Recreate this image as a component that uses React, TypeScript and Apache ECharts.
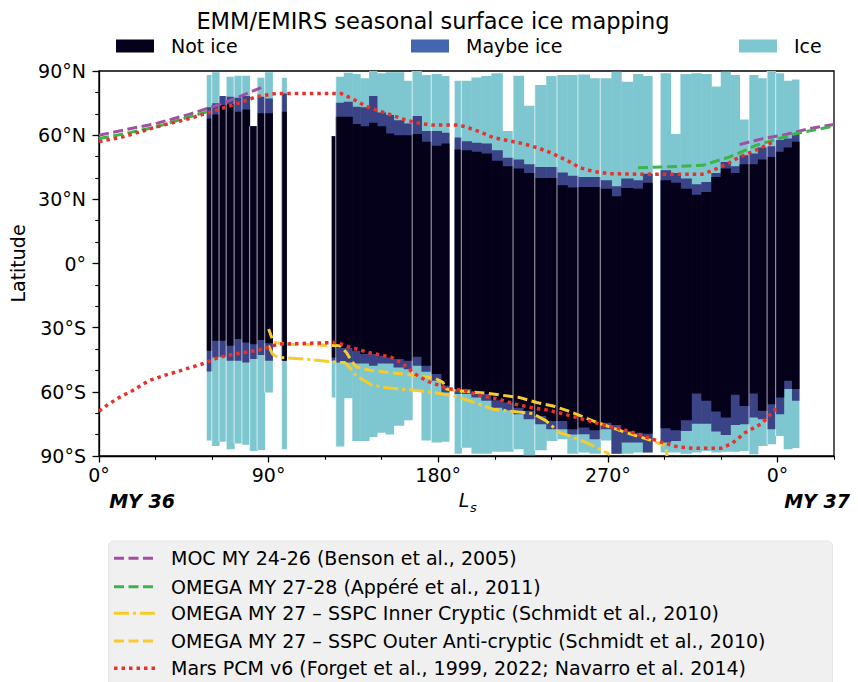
import React, { useEffect, useRef } from "react";
import * as echarts from "echarts";

// ---- EMIRS bins (Ls start/end, latitude boundaries) ----
const lsStart = [57.0, 59.8, 63.7, 67.5, 71.7, 75.8, 79.9, 83.9, 87.9, 96.9, 123.3, 125.6, 129.9, 134.4, 138.6, 143.3, 147.5, 152.1, 156.3, 161.7, 166.2, 171.1, 176.3, 181.7, 188.7, 192.3, 197.6, 202.8, 208.2, 214.0, 219.7, 225.3, 231.2, 237.3, 243.0, 248.5, 254.1, 260.3, 266.0, 271.9, 277.1, 283.4, 288.6, 298.0, 303.3, 308.5, 314.3, 319.6, 324.9, 329.9, 335.0, 339.9, 344.9, 349.6, 354.5, 359.0, 363.3, 367.7];
const lsEnd = [59.8, 63.7, 67.5, 71.7, 75.8, 79.9, 83.9, 87.9, 92.0, 99.4, 125.6, 129.9, 134.4, 138.6, 143.3, 147.5, 152.1, 156.3, 161.7, 166.2, 171.1, 176.3, 181.7, 185.7, 192.3, 197.6, 202.8, 208.2, 214.0, 219.7, 225.3, 231.2, 237.3, 243.0, 248.5, 254.1, 260.3, 266.0, 271.9, 277.1, 283.4, 288.6, 293.5, 303.3, 308.5, 314.3, 319.6, 324.9, 329.9, 335.0, 339.9, 344.9, 349.6, 354.5, 359.0, 363.3, 367.7, 371.4];
const iceTopN = [88.1, 89.4, 78.3, 87.3, 87.8, 87.8, 64.2, 86.9, 89.4, 86.9, 59.5, 87.3, 89.2, 88.6, 86.6, 90.0, 88.9, 89.4, 89.4, 85.5, 90.0, 88.1, 88.6, 87.7, 85.5, 85.5, 87.0, 87.7, 88.9, 61.9, 87.8, 73.7, 83.4, 87.7, 88.1, 88.1, 88.4, 86.6, 86.6, 89.7, 85.0, 88.6, 87.7, 89.0, 60.5, 88.6, 89.0, 88.6, 82.7, 89.7, 88.1, 67.3, 88.1, 86.6, 90.0, 88.9, 85.5, 86.0];
const maybeTopN = [73.0, 74.9, 78.3, 78.0, 77.5, 78.3, 64.2, 78.0, 77.2, 79.5, 59.5, 75.1, 75.6, 73.3, 73.0, 78.3, 70.6, 69.4, 67.0, 65.5, 69.0, 62.0, 62.0, 61.1, 58.9, 57.2, 56.4, 56.1, 53.0, 49.5, 48.6, 46.4, 45.1, 45.1, 42.5, 41.0, 40.5, 40.5, 38.9, 36.1, 39.7, 38.9, 42.0, 43.6, 42.3, 39.7, 37.0, 38.1, 42.3, 47.5, 45.5, 50.6, 51.4, 54.2, 54.8, 57.7, 58.4, 60.5];
const notIceTopN = [67.8, 69.7, 74.0, 74.4, 70.9, 72.0, 64.2, 70.2, 70.2, 70.9, 59.5, 68.6, 68.6, 65.2, 64.2, 65.8, 64.2, 60.8, 60.0, 60.0, 60.5, 56.9, 55.0, 56.1, 53.3, 53.0, 52.2, 51.4, 48.0, 45.5, 44.4, 42.3, 40.0, 40.0, 36.6, 35.5, 35.8, 35.8, 35.0, 31.4, 35.3, 35.0, 37.8, 38.9, 37.8, 35.0, 32.2, 33.4, 40.5, 44.4, 42.3, 46.4, 46.4, 48.6, 49.8, 52.2, 54.2, 56.9];
const notIceBotS = [-40.8, -36.1, -36.1, -38.4, -35.3, -36.9, -37.7, -35.8, -37.3, -45.5, -44.0, -39.5, -39.5, -40.8, -42.3, -42.3, -43.1, -43.9, -44.7, -45.5, -43.6, -47.8, -51.7, -57.2, -58.7, -58.7, -60.3, -61.0, -63.9, -65.0, -67.4, -68.9, -71.3, -73.6, -73.6, -77.5, -76.7, -78.0, -74.4, -75.5, -78.3, -79.1, -79.6, -77.0, -78.0, -73.3, -60.8, -64.2, -69.2, -72.0, -61.4, -66.6, -60.8, -68.9, -65.8, -62.7, -54.8, -58.7];
const maybeBotS = [-50.5, -43.9, -43.6, -45.5, -45.5, -46.3, -44.7, -42.8, -45.5, -45.5, -45.5, -46.3, -46.3, -46.8, -46.8, -47.8, -46.8, -46.8, -48.6, -49.4, -47.8, -50.6, -54.8, -60.3, -61.0, -61.0, -62.7, -64.2, -67.4, -68.6, -70.5, -72.8, -75.2, -77.5, -77.5, -80.0, -79.8, -82.2, -77.5, -88.9, -83.7, -83.7, -88.4, -83.7, -83.0, -78.3, -74.9, -74.9, -78.6, -80.2, -75.5, -75.2, -72.0, -72.8, -77.5, -70.5, -58.7, -64.2];
const iceBotS = [-82.7, -85.3, -83.3, -86.9, -84.2, -84.7, -87.7, -87.2, -60.3, -86.9, -62.7, -85.6, -63.0, -83.0, -83.0, -81.1, -79.1, -79.9, -75.9, -73.3, -59.5, -82.7, -83.7, -83.3, -88.9, -86.1, -88.9, -88.9, -88.0, -88.0, -86.9, -89.7, -87.3, -83.0, -82.2, -88.9, -88.4, -88.9, -82.7, -88.9, -88.9, -88.4, -88.4, -88.4, -88.4, -88.9, -88.4, -87.7, -88.4, -88.0, -88.0, -87.7, -89.2, -85.3, -84.5, -80.6, -86.9, -86.3];
// 1 where a new observation sequence starts at the bin
const obsBreak = [1, 1, 1, 1, 1, 1, 1, 1, 1, 1, 1, 1, 0, 0, 0, 0, 0, 0, 0, 0, 1, 0, 1, 0, 0, 1, 0, 0, 0, 0, 1, 0, 1, 0, 1, 0, 1, 0, 1, 0, 0, 0, 0, 0, 0, 0, 0, 0, 0, 0, 0, 0, 1, 0, 1, 1, 0, 0];

// ---- reference cap edges ----
const mocLsA = [0, 12.7, 30.5, 48.1, 65.8, 74.6, 88.0];
const mocLatA = [60, 62.3, 65.5, 69.8, 74.9, 78, 83];
const mocLsB = [339.9, 352.2, 362.9, 377.0, 390];
const mocLatB = [55.6, 58.4, 60, 63.1, 65];

const omegaLsA = [0, 12.7, 30.5, 48.1, 59.8];
const omegaLatA = [58.4, 60.5, 63.9, 68.6, 71.5];
const omegaLsB = [286.0, 301.7, 320.3, 334.6, 348.9, 370.0, 390];
const omegaLatB = [44.8, 45.2, 45.9, 49.8, 55.3, 60.8, 64.2];

const innerLs = [90.0, 92.0, 95.1, 110.0, 127.7, 130.4, 133.0, 136.5, 144.5, 152.4, 170.2, 177.2, 187.8, 196.7, 209.0, 230.3, 237.3, 244.4, 249.7, 258.6, 271.0];
const innerLat = [-38.4, -42.3, -43.9, -44.7, -46.3, -46.3, -48.6, -52.5, -56.7, -58.1, -59.5, -60.3, -61.8, -64.2, -68.1, -70.2, -73.6, -79.1, -80.6, -83.7, -89.2];

const outerLs = [90.0, 92.6, 101.1, 127.7, 131.3, 133.9, 136.5, 143.7, 161.3, 170.2, 178.2, 182.5, 184.3, 189.6, 205.6, 223.3, 232.2, 240.9, 248.9, 262.1, 279.8, 294.0, 300.7, 301.4];
const outerLat = [-30.6, -36.9, -37.7, -38.4, -41.6, -45.5, -48.3, -49.9, -51.7, -52.5, -53.6, -55.6, -58.7, -59.5, -60.6, -62.7, -65.0, -66.6, -68.9, -73.6, -79.1, -83.0, -85.3, -90.0];

const pcmNLs = [0, 12.7, 30.5, 48.1, 62.3, 74.6, 83.5, 94.1, 128.3, 135.1, 142.2, 152.5, 163.1, 170.2, 176.7, 190.8, 194.4, 202.0, 209.0, 217.8, 224.8, 233.7, 240.7, 244.4, 249.8, 255.1, 262.1, 270.9, 288.6, 319.9, 325.9, 333.0, 340.0, 350.7, 357.7];
const pcmNLat = [57, 59.2, 63.9, 67.8, 71.7, 75.1, 78, 79.5, 79.5, 76.7, 73.3, 70.2, 67, 65.5, 64.7, 64.7, 63.9, 61.6, 58.9, 57.3, 56.1, 53.8, 51.4, 49.8, 47.5, 44.8, 43.1, 42, 41.7, 41.7, 43.6, 46.4, 49.8, 53.8, 56.9];
const pcmSLs = [0, 4.7, 10.6, 17.6, 26.4, 35.2, 45.8, 54.6, 63.5, 72.4, 84.7, 95.4, 126.3, 132.4, 143.0, 155.3, 161.5, 167.7, 174.7, 185.4, 194.4, 203.2, 212.0, 220.9, 229.8, 238.5, 246.3, 266.5, 280.7, 296.6, 307.2, 315.9, 330.0, 335.8, 342.8, 351.6, 359.2];
const pcmSLat = [-69, -66, -62.7, -59.5, -54.8, -52.2, -49.4, -47, -43.9, -42.3, -40.5, -37.7, -36.9, -38.9, -41.6, -43.9, -47, -51.7, -55.2, -58.5, -59.5, -61.9, -63.4, -65.8, -67.4, -68.6, -70.3, -75.2, -78.3, -83, -85.8, -86.4, -86.4, -84.2, -79.1, -74.9, -67.8];

const majorLs = [0, 90, 180, 270, 360];
const minorLs = [30, 60, 120, 150, 210, 240, 300, 330, 390];

const NAME_NOT = "Not ice";
const NAME_MAYBE = "Maybe ice";
const NAME_ICE = "Ice";
const NAME_MOC = "MOC MY 24-26 (Benson et al., 2005)";
const NAME_OMEGA = "OMEGA MY 27-28 (Appéré et al., 2011)";
const NAME_INNER = "OMEGA MY 27 – SSPC Inner Cryptic (Schmidt et al., 2010)";
const NAME_OUTER = "OMEGA MY 27 – SSPC Outer Anti-cryptic (Schmidt et al., 2010)";
const NAME_PCM = "Mars PCM v6 (Forget et al., 1999, 2022; Navarro et al. 2014)";

const FONT = "'DejaVu Sans', sans-serif";
const C_NOT = "#05011a";
const C_MAYBE_PLOT = "#3a4386";
const C_MAYBE_LEG = "#4466b0";
const C_ICE = "#7ec7d0";
const C_MOC = "#a04fa3";
const C_OMEGA = "#3cb44a";
const C_SSPC = "#f7cb2a";
const C_PCM = "#e8312a";
const DASH = [10, 4.5];
const DASHDOT = [15, 4, 3, 4];
const DOT = [3.5, 4];

const lineLegend = [
  { name: NAME_MOC, color: C_MOC, dash: DASH, w: 3 },
  { name: NAME_OMEGA, color: C_OMEGA, dash: DASH, w: 3 },
  { name: NAME_INNER, color: C_SSPC, dash: DASHDOT, w: 3 },
  { name: NAME_OUTER, color: C_SSPC, dash: DASH, w: 3 },
  { name: NAME_PCM, color: C_PCM, dash: DOT, w: 3.5 },
];

const zip = (a: number[], b: number[]) => a.map((v, i) => [v, b[i]]);

const rectRender = (fill: string) => (_p: any, api: any) => {
  const a = api.coord([api.value(0), api.value(3)]);
  const b = api.coord([api.value(1), api.value(2)]);
  return {
    type: "rect",
    shape: { x: a[0], y: a[1], width: b[0] - a[0] + 0.5, height: b[1] - a[1] },
    style: { fill },
  };
};

export default function App() {
  const ref = useRef<HTMLDivElement>(null);
  useEffect(() => {
    if (!ref.current) return;
    const chart = echarts.init(ref.current, undefined, { renderer: "svg" });

    const iceData = lsStart.map((s, i) => [s, lsEnd[i], iceBotS[i], iceTopN[i]]);
    const maybeData = lsStart.map((s, i) => [s, lsEnd[i], maybeBotS[i], maybeTopN[i]]);
    const notData = lsStart.map((s, i) => [s, lsEnd[i], notIceBotS[i], notIceTopN[i]]);
    const sepData = lsStart
      .map((s, i) => [s, iceBotS[i], iceTopN[i], obsBreak[i]])
      .filter((d) => d[3] === 1);

    const lineS = (name: string, data: number[][], color: string, type: any, width = 3) => ({
      name,
      type: "line",
      data,
      symbol: "none",
      showSymbol: false,
      silent: true,
      z: 5,
      lineStyle: { color, width, type, cap: "butt" },
      itemStyle: { color },
    });

    const textStyle = { fontFamily: FONT, fontSize: 19, color: "#000" };

    // bottom legend box drawn as graphic
    const legendRowY = [558.3, 586.7, 613.3, 641, 668.3];
    const legendGraphic: any[] = [
      {
        type: "rect", z: 0, silent: true,
        shape: { x: 108.5, y: 541, width: 724, height: 160, r: 5 },
        style: { fill: "#f0f0f0", stroke: "#e4e4e4", lineWidth: 1 },
      },
    ];
    lineLegend.forEach((it, i) => {
      legendGraphic.push({
        type: "line", z: 1, silent: true,
        shape: { x1: 114, y1: legendRowY[i], x2: 155, y2: legendRowY[i] },
        style: { stroke: it.color, lineWidth: it.w, lineDash: it.dash },
      });
      legendGraphic.push({
        type: "text", z: 1, x: 171, y: legendRowY[i],
        style: { text: it.name, fontFamily: FONT, fontSize: 19, fill: "#000", align: "left", verticalAlign: "middle" },
      });
    });

    const option: any = {
      animation: false,
      backgroundColor: "#fff",
      grid: { left: 99, right: 24, top: 71, bottom: 226, show: true, borderColor: "#000", borderWidth: 1.3, backgroundColor: "transparent" },
      xAxis: [
        {
          type: "value",
          min: 0,
          max: 390,
          position: "bottom",
          axisLine: { show: true, onZero: false, lineStyle: { color: "#000", width: 1.3 } },
          axisTick: { show: true, customValues: majorLs, length: 6.5, lineStyle: { color: "#000", width: 1.3 } },
          axisLabel: { customValues: majorLs, formatter: (v: number) => `${v % 360}°`, margin: 9, ...textStyle },
          splitLine: { show: false },
        },
        {
          type: "value",
          min: 0,
          max: 390,
          position: "bottom",
          axisLine: { show: false, onZero: false },
          axisTick: { show: true, customValues: minorLs, length: 3.8, lineStyle: { color: "#000", width: 1.1 } },
          axisLabel: { show: false },
          splitLine: { show: false },
        },
      ],
      yAxis: {
        type: "value",
        min: -90,
        max: 90,
        interval: 30,
        name: "Latitude",
        nameLocation: "middle",
        nameRotate: 90,
        nameGap: 68,
        nameTextStyle: textStyle,
        axisLine: { show: true, onZero: false, lineStyle: { color: "#000", width: 1.3 } },
        axisTick: { show: true, length: 6.5, lineStyle: { color: "#000", width: 1.3 } },
        minorTick: { show: true, splitNumber: 3, length: 3.8, lineStyle: { color: "#000", width: 1.1 } },
        axisLabel: {
          margin: 13,
          ...textStyle,
          formatter: (v: number) => (v === 0 ? "0°" : v > 0 ? `${v}°N` : `${-v}°S`),
        },
        splitLine: { show: false },
      },
      legend: [
        {
          data: [{ name: NAME_NOT, itemStyle: { color: C_NOT } }],
          left: 116, top: 36.5, icon: "rect", itemWidth: 38, itemHeight: 13, padding: 0,
          selectedMode: false, textStyle: { ...textStyle, padding: [0, 0, 0, 12] },
        },
        {
          data: [{ name: NAME_MAYBE, itemStyle: { color: C_MAYBE_LEG } }],
          left: 411, top: 36.5, icon: "rect", itemWidth: 38, itemHeight: 13, padding: 0,
          selectedMode: false, textStyle: { ...textStyle, padding: [0, 0, 0, 12] },
        },
        {
          data: [{ name: NAME_ICE, itemStyle: { color: C_ICE } }],
          left: 739, top: 36.5, icon: "rect", itemWidth: 38, itemHeight: 13, padding: 0,
          selectedMode: false, textStyle: { ...textStyle, padding: [0, 0, 0, 12] },
        },
      ],
      graphic: [
        ...legendGraphic,
        {
          type: "text", x: 433, y: 21,
          style: { text: "EMM/EMIRS seasonal surface ice mapping", fontFamily: FONT, fontSize: 22.5, fill: "#000", align: "center", verticalAlign: "middle" },
        },
        {
          type: "text", x: 142, y: 501,
          style: { text: "MY 36", fontFamily: FONT, fontSize: 19, fontWeight: "bold", fontStyle: "italic", fill: "#000", align: "center", verticalAlign: "middle" },
        },
        {
          type: "text", x: 817, y: 501,
          style: { text: "MY 37", fontFamily: FONT, fontSize: 19, fontWeight: "bold", fontStyle: "italic", fill: "#000", align: "center", verticalAlign: "middle" },
        },
        {
          type: "text", x: 464, y: 500,
          style: { text: "L", fontFamily: FONT, fontSize: 19, fontStyle: "italic", fill: "#000", align: "center", verticalAlign: "middle" },
        },
        {
          type: "text", x: 473.5, y: 507,
          style: { text: "s", fontFamily: FONT, fontSize: 13, fontStyle: "italic", fill: "#000", align: "center", verticalAlign: "middle" },
        },
      ],
      series: [
        { name: NAME_ICE, type: "custom", data: iceData, renderItem: rectRender(C_ICE), itemStyle: { color: C_ICE }, silent: true, z: 2 },
        { name: NAME_MAYBE, type: "custom", data: maybeData, renderItem: rectRender(C_MAYBE_PLOT), itemStyle: { color: C_MAYBE_LEG }, silent: true, z: 2 },
        { name: NAME_NOT, type: "custom", data: notData, renderItem: rectRender(C_NOT), itemStyle: { color: C_NOT }, silent: true, z: 2 },
        {
          name: "obs-breaks", type: "custom", data: sepData, silent: true, z: 3,
          renderItem: (_p: any, api: any) => {
            const a = api.coord([api.value(0), api.value(1)]);
            const b = api.coord([api.value(0), api.value(2)]);
            return { type: "line", shape: { x1: a[0], y1: a[1], x2: b[0], y2: b[1] }, style: { stroke: "rgba(255,255,255,0.55)", lineWidth: 1.2 } };
          },
        },
        lineS(NAME_MOC, zip(mocLsA, mocLatA), C_MOC, DASH),
        lineS(NAME_MOC, zip(mocLsB, mocLatB), C_MOC, DASH),
        lineS(NAME_OMEGA, zip(omegaLsA, omegaLatA), C_OMEGA, DASH),
        lineS(NAME_OMEGA, zip(omegaLsB, omegaLatB), C_OMEGA, DASH),
        lineS(NAME_INNER, zip(innerLs, innerLat), C_SSPC, DASHDOT),
        lineS(NAME_OUTER, zip(outerLs, outerLat), C_SSPC, DASH),
        lineS(NAME_PCM, zip(pcmNLs, pcmNLat), C_PCM, DOT, 3.5),
        lineS(NAME_PCM, zip(pcmSLs, pcmSLat), C_PCM, DOT, 3.5),
      ],
    };
    chart.setOption(option);
    return () => chart.dispose();
  }, []);
  return <div ref={ref} style={{ position: "fixed", left: 0, top: 0, width: 858, height: 682 }} />;
}
